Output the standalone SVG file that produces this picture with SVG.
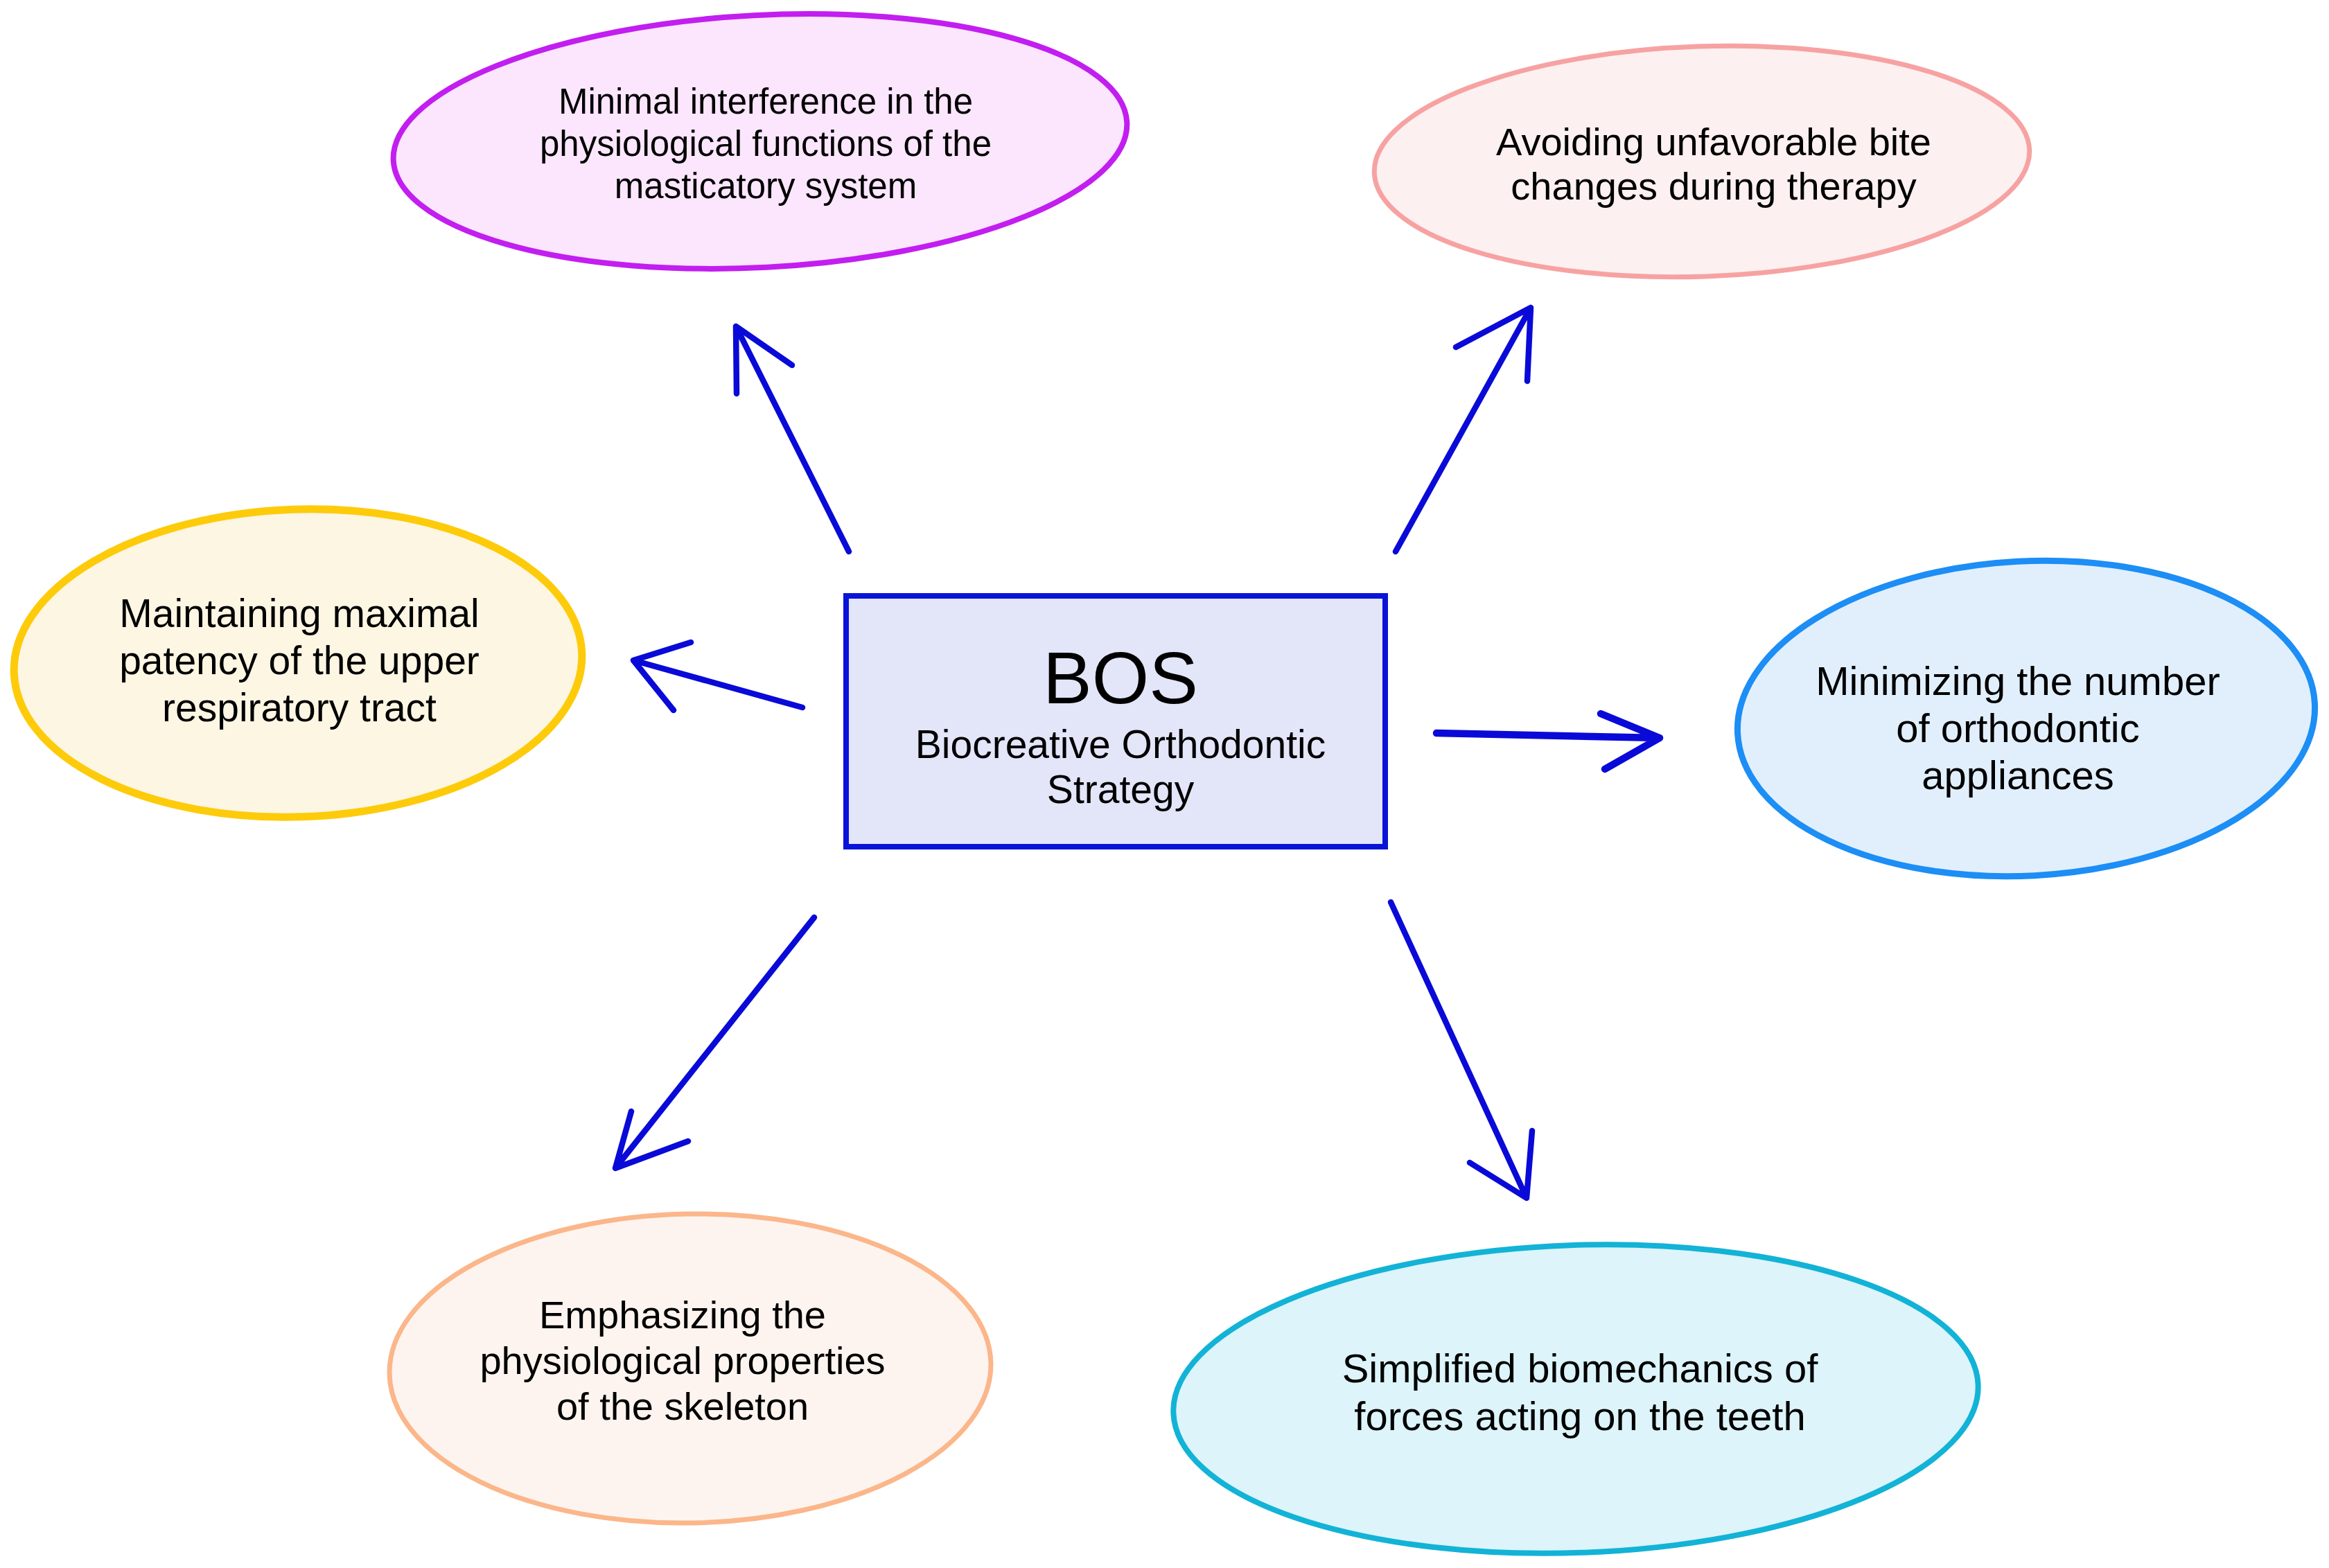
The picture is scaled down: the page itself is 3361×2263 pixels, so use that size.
<svg xmlns="http://www.w3.org/2000/svg" width="3361" height="2263" viewBox="0 0 3361 2263">
  <style>
    .t { font-family: "Liberation Sans", Arial, Helvetica, sans-serif; fill: #000000; text-anchor: middle; }
    .arrow { fill: none; stroke: #0a0ad8; stroke-width: 8.5; stroke-linecap: round; stroke-linejoin: round; }
  </style>
  <rect x="0" y="0" width="3361" height="2263" fill="#ffffff"/>

  <g id="connectors">
    <path class="arrow" d="M1225 796 L1062 471 M1063 568 L1062 471 L1143 527"/>
    <path class="arrow" d="M1158 1021 L914 953 M997 927 L914 953 L972 1025"/>
    <path class="arrow" d="M2014 796 L2209 444 M2101 501 L2209 444 L2204 550"/>
    <path class="arrow" style="stroke-width:10.5" d="M2073 1058 L2395 1065 M2310 1030 L2395 1065 L2316 1110"/>
    <path class="arrow" d="M1175 1324 L888 1686 M911 1604 L888 1686 L993 1647"/>
    <path class="arrow" d="M2007 1302 L2203 1729 M2211 1632 L2203 1729 L2121 1678"/>
  </g>

  <g id="bos">
    <rect x="1221" y="860" width="778" height="362" fill="#e3e5f9" stroke="#0a14d8" stroke-width="8"/>
    <text class="t" x="1617" y="1015" font-size="106">BOS</text>
    <text class="t" x="1617" y="1094" font-size="57">Biocreative Orthodontic</text>
    <text class="t" x="1617" y="1159" font-size="57">Strategy</text>
  </g>

  <g id="masticatory">
    <ellipse cx="1097" cy="204" rx="530" ry="182" transform="rotate(-3 1097 204)" fill="#fbe6fd" stroke="#c21ef0" stroke-width="8"/>
    <text class="t" x="1105" y="164" font-size="51">Minimal interference in the</text>
    <text class="t" x="1105" y="225" font-size="51">physiological functions of the</text>
    <text class="t" x="1105" y="286" font-size="51">masticatory system</text>
  </g>

  <g id="bite">
    <ellipse cx="2456" cy="233" rx="473" ry="166" transform="rotate(-2 2456 233)" fill="#fdf0f0" stroke="#f7a2a2" stroke-width="7"/>
    <text class="t" x="2473" y="224" font-size="56">Avoiding unfavorable bite</text>
    <text class="t" x="2473" y="288" font-size="56">changes during therapy</text>
  </g>

  <g id="respiratory">
    <ellipse cx="430" cy="957" rx="410" ry="222" transform="rotate(-2 430 957)" fill="#fdf6e3" stroke="#fdcb0a" stroke-width="11"/>
    <text class="t" x="432" y="905" font-size="57">Maintaining maximal</text>
    <text class="t" x="432" y="973" font-size="57">patency of the upper</text>
    <text class="t" x="432" y="1041" font-size="57">respiratory tract</text>
  </g>

  <g id="appliances">
    <ellipse cx="2924" cy="1037" rx="417" ry="227" transform="rotate(-3 2924 1037)" fill="#e1effd" stroke="#1c8ef5" stroke-width="9"/>
    <text class="t" x="2912" y="1003" font-size="58">Minimizing the number</text>
    <text class="t" x="2912" y="1071" font-size="58">of orthodontic</text>
    <text class="t" x="2912" y="1139" font-size="58">appliances</text>
  </g>

  <g id="skeleton">
    <ellipse cx="996" cy="1975" rx="434" ry="223" transform="rotate(-1 996 1975)" fill="#fdf4ef" stroke="#fbb68a" stroke-width="7"/>
    <text class="t" x="985" y="1917" font-size="56">Emphasizing the</text>
    <text class="t" x="985" y="1983" font-size="56">physiological properties</text>
    <text class="t" x="985" y="2049" font-size="56">of the skeleton</text>
  </g>

  <g id="biomechanics">
    <ellipse cx="2274" cy="2019" rx="581" ry="222" transform="rotate(-2 2274 2019)" fill="#dcf4fa" stroke="#12b3d6" stroke-width="8"/>
    <text class="t" x="2280" y="1995" font-size="58">Simplified biomechanics of</text>
    <text class="t" x="2280" y="2064" font-size="58">forces acting on the teeth</text>
  </g>
</svg>
